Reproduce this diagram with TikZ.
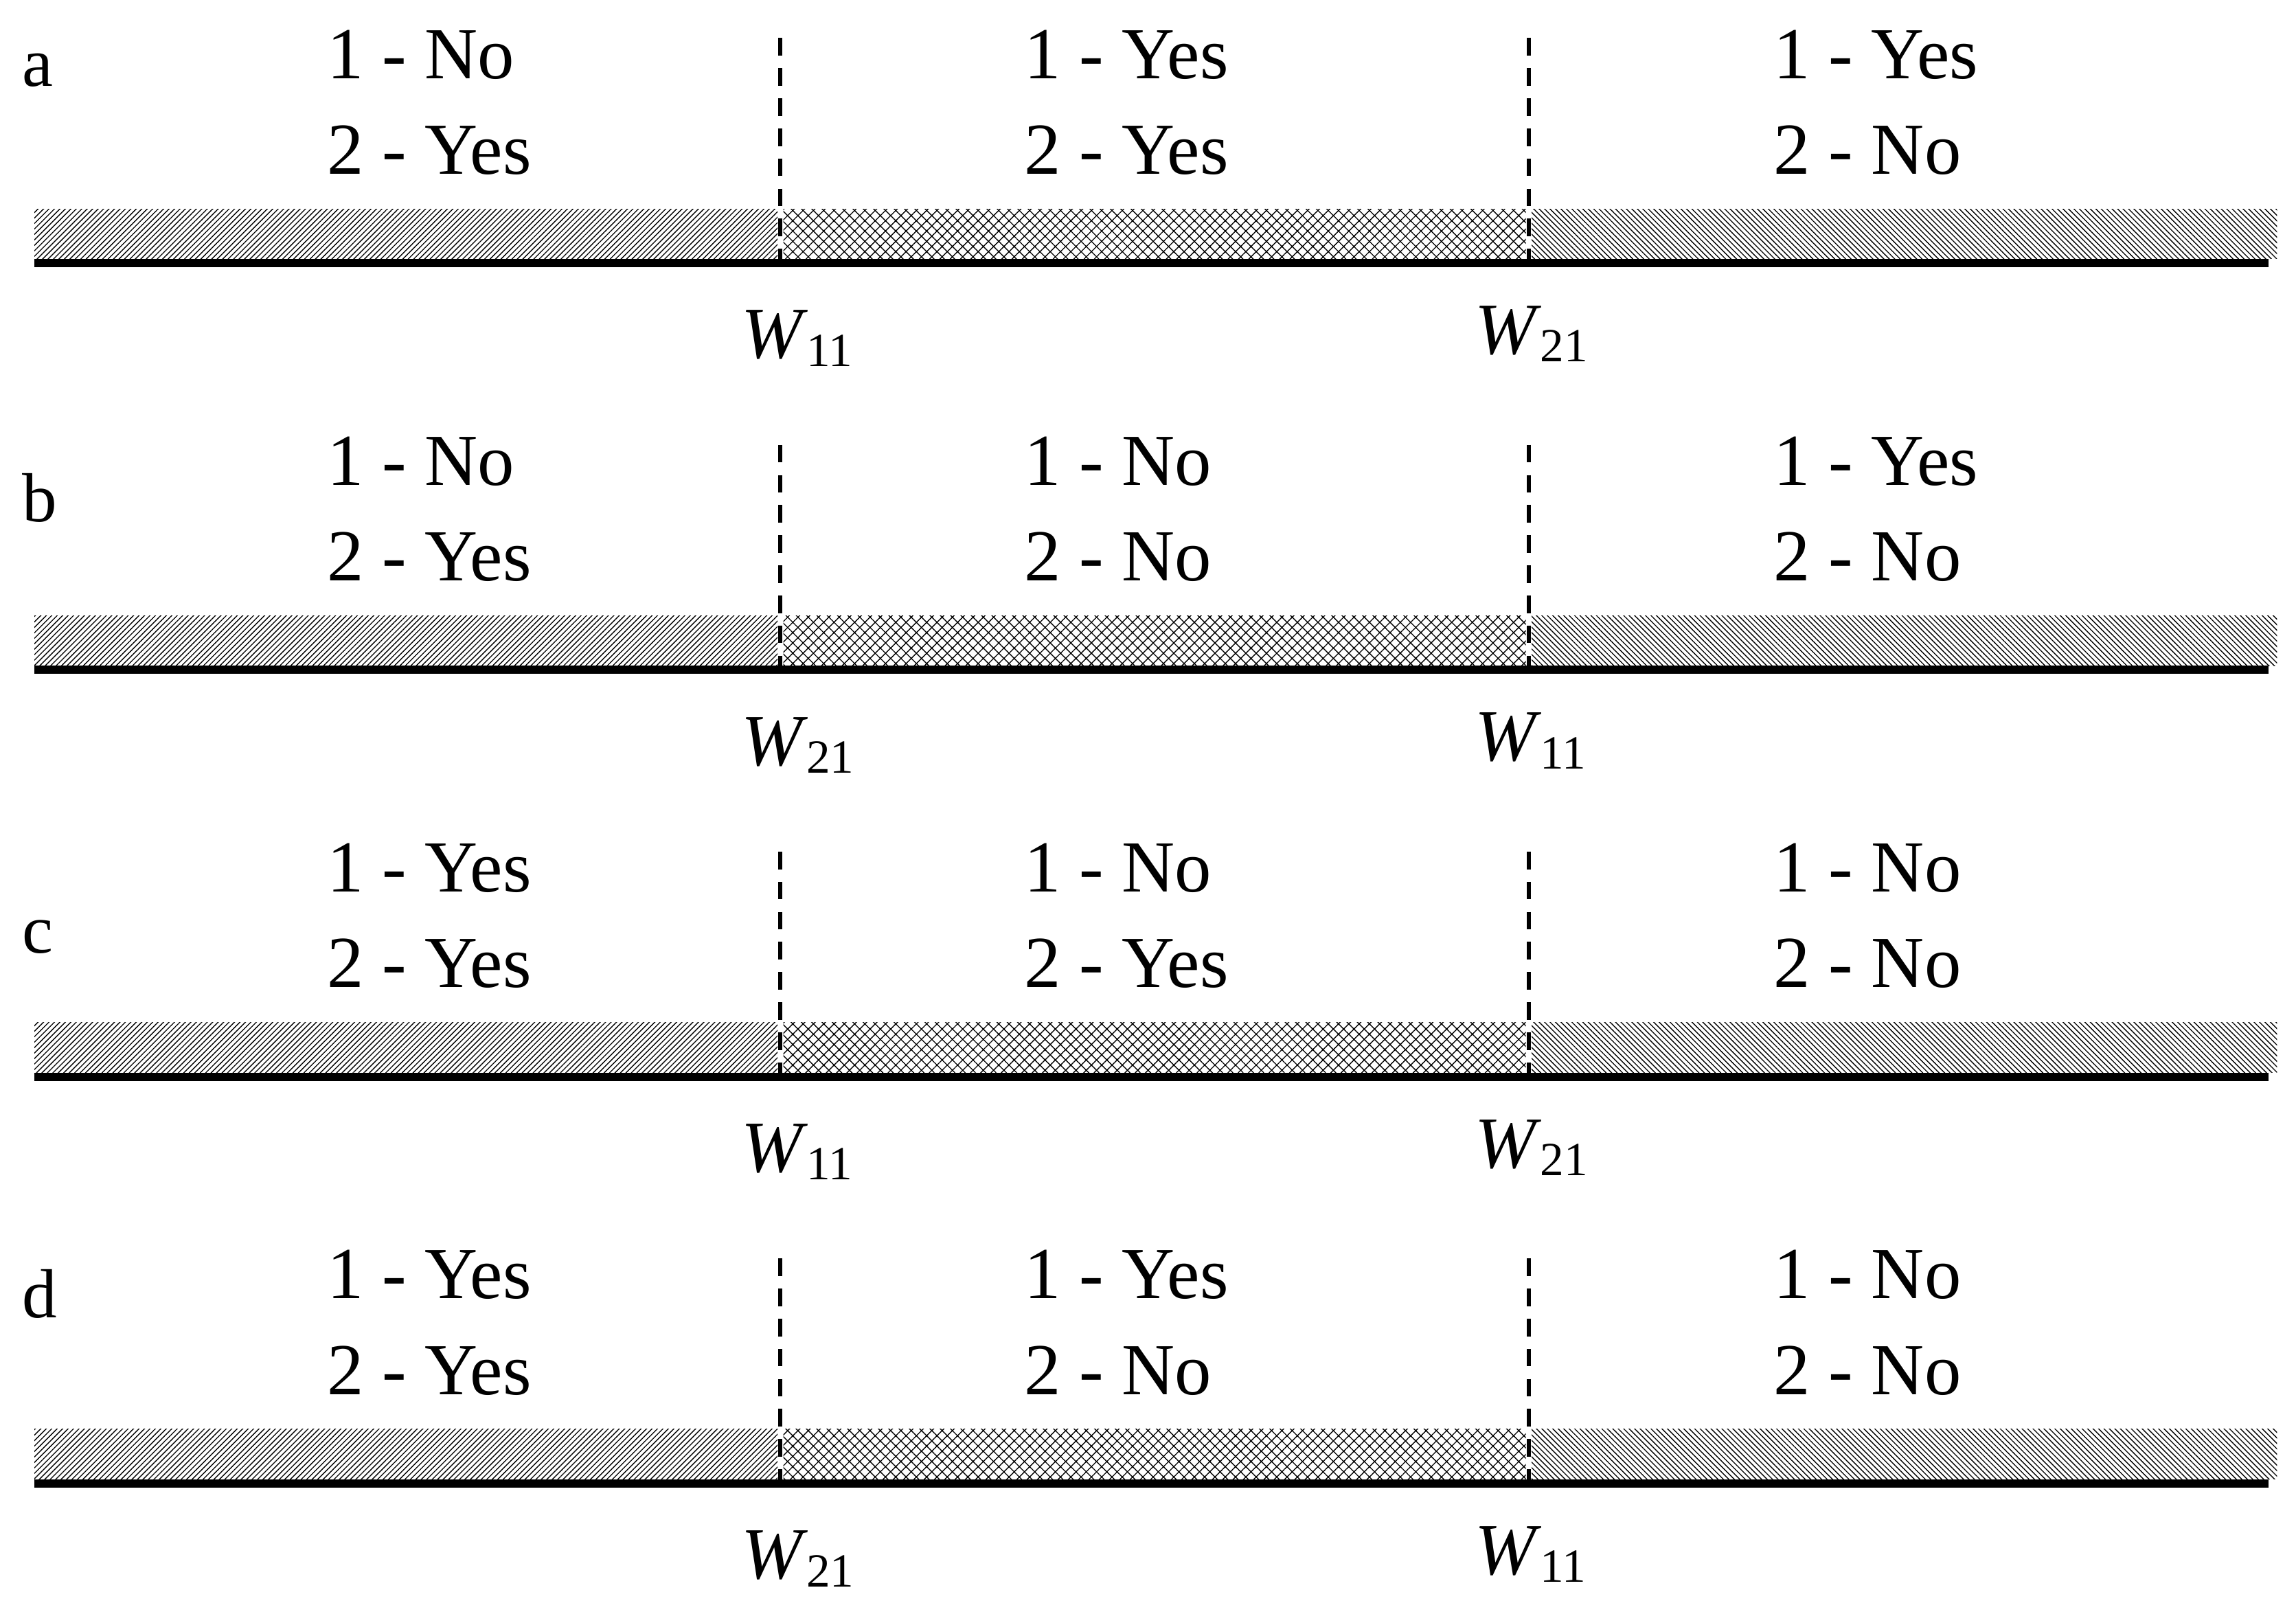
\documentclass[tikz,border=0pt]{standalone}
\usepackage{fontspec}
\setmainfont{Liberation Serif}
\usetikzlibrary{patterns.meta}
\tikzset{
  txt/.style={anchor=base west, inner sep=0pt, font=\fontsize{28.5}{30}\selectfont},
  plabel/.style={anchor=base west, inner sep=0pt, font=\fontsize{27}{30}\selectfont},
  wlab/.style={anchor=base west, inner sep=0pt},
  hatchL/.style={pattern={Lines[angle=45,distance=1.5pt,line width=0.36pt]}},
  hatchX/.style={pattern={Hatch[angle=45,distance=2.83pt,line width=0.36pt]}},
  hatchR/.style={pattern={Lines[angle=-45,distance=1.5pt,line width=0.36pt]}},
  groundline/.style={line width=3.2pt},
  divider/.style={line width=1.6pt, dash pattern=on 6.85pt off 4.85pt},
}
\newcommand{\Wlab}[1]{\fontsize{28.5}{30}\selectfont\textit{W}\kern-0.6pt\raisebox{-3pt}{\fontsize{18.5}{20}\selectfont #1}}
\begin{document}
\begin{tikzpicture}[x=0.02cm,y=-0.02cm]
\useasboundingbox (0,0) rectangle (1568,1093);
\foreach \p/\off/\lb/\la/\lc/\ma/\mc/\ra/\rc/\wa/\wb in {
  a/0/59/No/Yes/Yes/Yes/Yes/No/11/21,
  b/277.8/356/No/Yes/No/No/Yes/No/21/11,
  c/555.6/651/Yes/Yes/No/Yes/No/No/11/21,
  d/833.4/900/Yes/Yes/Yes/No/No/No/21/11}
{
  \begin{scope}[shift={(0,\off)}]
    \path[hatchL] (23.5,142.6) rectangle (531,176.8);
    \path[hatchX] (535,142.6) rectangle (1042,176.8);
    \path[hatchR] (1046,142.6) rectangle (1555,176.8);
    \draw[groundline] (23.5,179.7) -- (1549,179.7);
    \draw[divider] (533,26) -- (533,176.8);
    \draw[divider] (1044,26) -- (1044,176.8);
    \node[txt] (l1-\p) at (223,53.5) {1 - \la};
    \node[txt] (l2-\p) at (223,118.8) {2 - \lc};
    \node[txt] (m1-\p) at (699,53.5) {1 - \ma};
    \node[txt] (m2-\p) at (699,118.8) {2 - \mc};
    \node[txt] (r1-\p) at (1211,53.5) {1 - \ra};
    \node[txt] (r2-\p) at (1211,118.8) {2 - \rc};
    \node[wlab] (wa-\p) at (506,244.8) {\Wlab{\wa}};
    \node[wlab] (wb-\p) at (1007,241.8) {\Wlab{\wb}};
  \end{scope}
  \node[plabel] (lab-\p) at (15,\lb) {\p};
}
\end{tikzpicture}
\end{document}
